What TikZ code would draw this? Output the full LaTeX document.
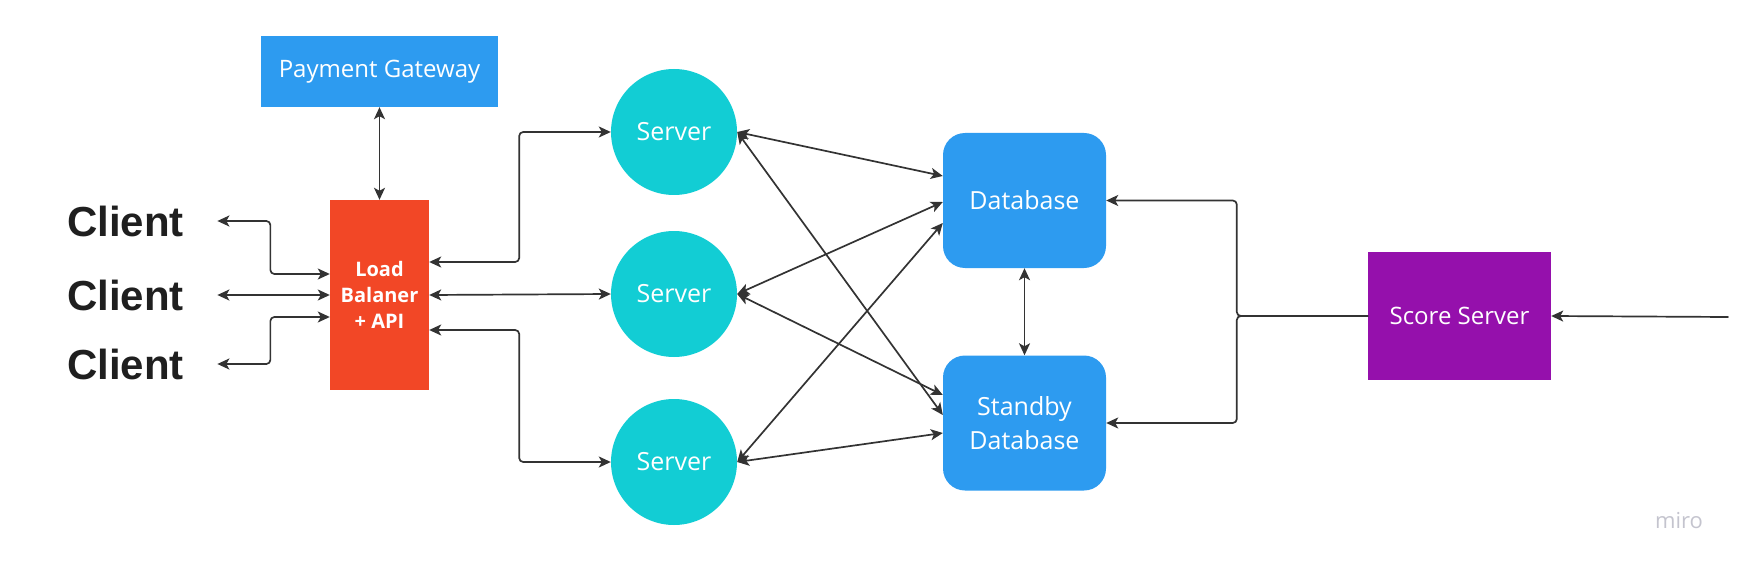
\documentclass[tikz,border=0pt]{standalone}
\usepackage{fontspec}
\setmainfont{Open Sans}
\newfontfamily\clientfont{Liberation Sans}
\usetikzlibrary{arrows.meta}
\definecolor{gwblue}{HTML}{2D9BF0}
\definecolor{lbred}{HTML}{F24726}
\definecolor{srvcyan}{HTML}{12CDD4}
\definecolor{scorepurple}{HTML}{9510AC}
\definecolor{wirecol}{HTML}{333333}
\definecolor{mirogray}{HTML}{C4C4CE}
\begin{document}
\begin{tikzpicture}[x=1pt, y=-1pt, line join=round, line cap=round,
		>={Stealth[length=12pt,width=11pt,inset=3pt]},
		wire/.style={draw=wirecol, line width=1.7pt, rounded corners=4pt},
		box/.style={inner sep=0pt, text=white, font=\fontsize{24}{28}\selectfont},
		srv/.style={box, circle, fill=srvcyan, minimum size=126pt, font=\fontsize{25}{30}\selectfont},
		dbbox/.style={box, rounded corners=22pt, fill=gwblue, minimum width=163pt, minimum height=135pt, align=center, font=\fontsize{25}{34}\selectfont},
		client/.style={font=\clientfont\bfseries\fontsize{42}{48}\selectfont, text=black!88}]
		\useasboundingbox (0,0) rectangle (1747,572);
		% boxes
		\node[box, fill=gwblue, minimum width=237pt, minimum height=71pt] (pay) at (379.5,71.5) {Payment Gateway};
		\node[box, fill=lbred, minimum width=99pt, minimum height=190pt, align=center, font=\bfseries\fontsize{20}{26}\selectfont] (lb) at (379.5,295) {Load\\Balaner\\+ API};
		\foreach \i/\y in {1/221,2/295,3/364} \node[client] (cl\i) at (125.5,\y) {Client};
		\foreach \i/\y in {1/132,2/294,3/462} \node[srv] (srv\i) at (674,\y) {Server};
		\node[dbbox] (db) at (1024.5,200.5) {Database};
		\node[dbbox] (sdb) at (1024.5,423) {Standby\\Database};
		\node[box, fill=scorepurple, minimum width=183pt, minimum height=128pt] (score) at (1459.5,316) {Score Server};
		\node[text=mirogray, font=\fontsize{22}{26}\selectfont] (miro) at (1679,521) {miro};
		\coordinate (feed) at (1728,317);
		% connectors
		\draw[wire, <->] (pay.south) -- (lb.north);
		\draw[wire, <->] ([xshift=30pt]cl1.east) -- ++(53,0) |- ([yshift=21pt]lb.west);
		\draw[wire, <->] ([xshift=30pt]cl2.east) -- (lb.west);
		\draw[wire, <->] ([xshift=30pt]cl3.east) -- ++(53,0) |- ([yshift=-22pt]lb.west);
		\draw[wire, <->] ([yshift=33pt]lb.east) -- ++(90,0) |- (srv1.west);
		\draw[wire, <->] (lb.east) -- (srv2.west);
		\draw[wire, <->] ([yshift=-35pt]lb.east) -- ++(90,0) |- (srv3.west);
		\draw[wire, <->] (srv1.east) -- ([yshift=24.5pt]db.west);
		\draw[wire, <->] (srv1.east) -- ([yshift=8pt]sdb.west);
		\draw[wire, <->] (srv2.east) -- ([yshift=-1.5pt]db.west);
		\draw[wire, <->] (srv2.east) -- ([yshift=28pt]sdb.west);
		\draw[wire, <->] (srv3.east) -- ([yshift=-22.5pt]db.west);
		\draw[wire, <->] (srv3.east) -- ([yshift=-10pt]sdb.west);
		\draw[wire, <->] (db.south) -- (sdb.north);
		\draw[wire, ->] (score.west) -- ++(-131,0) |- (db.east);
		\draw[wire, ->] (score.west) -- ++(-131,0) |- (sdb.east);
		\draw[wire, ->] (feed) -- (score.east);
\end{tikzpicture}
\end{document}
